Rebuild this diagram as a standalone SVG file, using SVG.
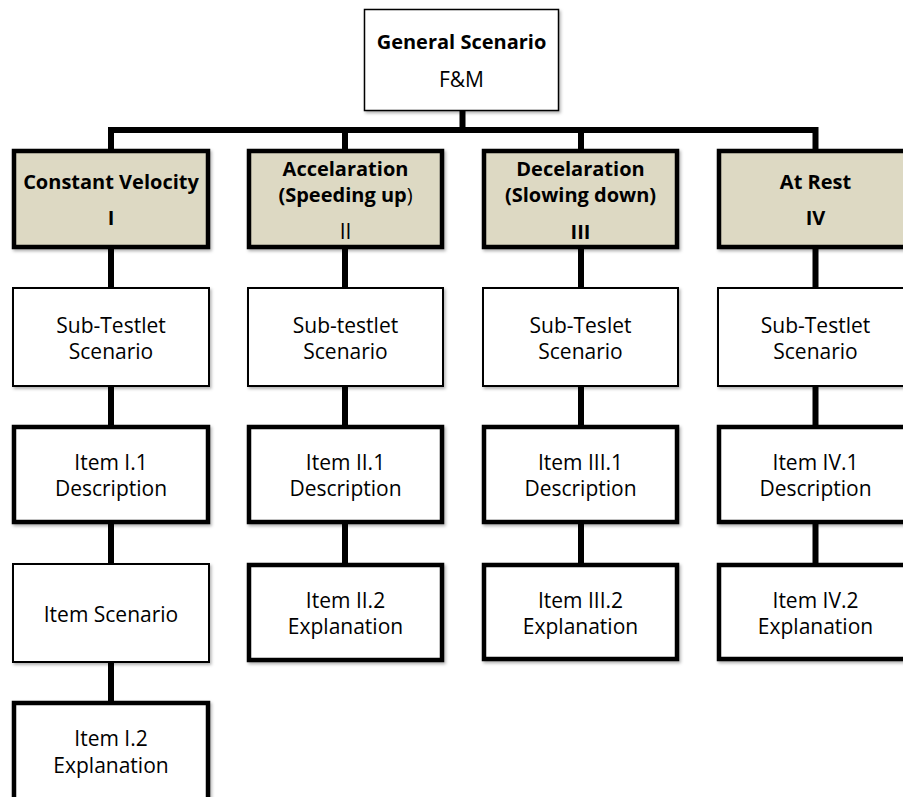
<svg xmlns="http://www.w3.org/2000/svg" width="903" height="797" viewBox="0 0 903 797">
<defs>
<filter id="sh" x="-10%" y="-10%" width="125%" height="130%">
<feDropShadow dx="1.5" dy="2" stdDeviation="1.5" flood-color="#000" flood-opacity="0.3"/>
</filter>
<style>
.thin{fill:#fff;stroke:#000;stroke-width:2;filter:url(#sh)}
.thick{fill:#fff;stroke:#000;stroke-width:4.5;filter:url(#sh)}
.head{fill:#DDD9C3;stroke:#000;stroke-width:4.5;filter:url(#sh)}
.top{fill:#fff;stroke:#000;stroke-width:1.5;filter:url(#sh)}
text{font-family:"Open Sans","Liberation Sans",sans-serif;font-size:21px;fill:#000;text-anchor:middle}
.b{font-weight:bold;font-size:20px}
.con{stroke:#000;stroke-width:6;fill:none}
</style>
</defs>
<rect width="903" height="797" fill="#fff"/>
<g id="connectors">
<path class="con" d="M462.5 110V130M108 130H818.5M111 127V150M345 130V150M581 130V150M815.5 130V150"/>
<path class="con" d="M111 249V288M111 387V426M111 524V564M111 663V702"/>
<path class="con" d="M345 249V288M345 387V426M345 524V564"/>
<path class="con" d="M581 249V288M581 387V426M581 524V564"/>
<path class="con" d="M815.5 249V288M815.5 387V426M815.5 524V564"/>
</g>
<g id="general">
<rect class="top" x="364.5" y="9.5" width="194" height="101"/>
<text class="b" x="461.5" y="49">General Scenario</text>
<text x="461.5" y="87">F&amp;M</text>
</g>
<g id="h1">
<rect class="head" x="14" y="151" width="194" height="96"/>
<text class="b" x="111" y="189">Constant Velocity</text>
<text class="b" x="111" y="225">I</text>
</g>
<g id="h2">
<rect class="head" x="249" y="151" width="193" height="96"/>
<text class="b" x="345.5" y="176">Accelaration</text>
<text x="345.5" y="202"><tspan class="b">(Speeding up</tspan><tspan font-size="20">)</tspan></text>
<text x="345.5" y="239">II</text>
</g>
<g id="h3">
<rect class="head" x="484" y="151" width="193" height="96"/>
<text class="b" x="580.5" y="176">Decelaration</text>
<text class="b" x="580.5" y="202">(Slowing down)</text>
<text class="b" x="580.5" y="239">III</text>
</g>
<g id="h4">
<rect class="head" x="719" y="151" width="194" height="96"/>
<text class="b" x="815.5" y="189">At Rest</text>
<text class="b" x="815.5" y="225">IV</text>
</g>
<g id="s1">
<rect class="thin" x="13" y="288" width="196" height="98"/>
<text x="111" y="333">Sub-Testlet</text>
<text x="111" y="359">Scenario</text>
</g>
<g id="s2">
<rect class="thin" x="248" y="288" width="195" height="98"/>
<text x="345.5" y="333">Sub-testlet</text>
<text x="345.5" y="359">Scenario</text>
</g>
<g id="s3">
<rect class="thin" x="483" y="288" width="195" height="98"/>
<text x="580.5" y="333">Sub-Teslet</text>
<text x="580.5" y="359">Scenario</text>
</g>
<g id="s4">
<rect class="thin" x="718" y="288" width="196" height="98"/>
<text x="815.5" y="333">Sub-Testlet</text>
<text x="815.5" y="359">Scenario</text>
</g>
<g id="i11">
<rect class="thick" x="14" y="427" width="194" height="95"/>
<text x="111" y="470">Item I.1</text>
<text x="111" y="496">Description</text>
</g>
<g id="i21">
<rect class="thick" x="249" y="427" width="193" height="95"/>
<text x="345.5" y="470">Item II.1</text>
<text x="345.5" y="496">Description</text>
</g>
<g id="i31">
<rect class="thick" x="484" y="427" width="193" height="95"/>
<text x="580.5" y="470">Item III.1</text>
<text x="580.5" y="496">Description</text>
</g>
<g id="i41">
<rect class="thick" x="719" y="427" width="194" height="95"/>
<text x="815.5" y="470">Item IV.1</text>
<text x="815.5" y="496">Description</text>
</g>
<g id="is1">
<rect class="thin" x="13" y="564" width="196" height="98"/>
<text x="111" y="622">Item Scenario</text>
</g>
<g id="i22">
<rect class="thick" x="249" y="565" width="193" height="95"/>
<text x="345.5" y="608">Item II.2</text>
<text x="345.5" y="634">Explanation</text>
</g>
<g id="i32">
<rect class="thick" x="484" y="565" width="193" height="94"/>
<text x="580.5" y="608">Item III.2</text>
<text x="580.5" y="634">Explanation</text>
</g>
<g id="i42">
<rect class="thick" x="719" y="565" width="194" height="94"/>
<text x="815.5" y="608">Item IV.2</text>
<text x="815.5" y="634">Explanation</text>
</g>
<g id="i12">
<rect class="thick" x="14" y="703" width="194" height="110"/>
<text x="111" y="746">Item I.2</text>
<text x="111" y="773">Explanation</text>
</g>
</svg>
